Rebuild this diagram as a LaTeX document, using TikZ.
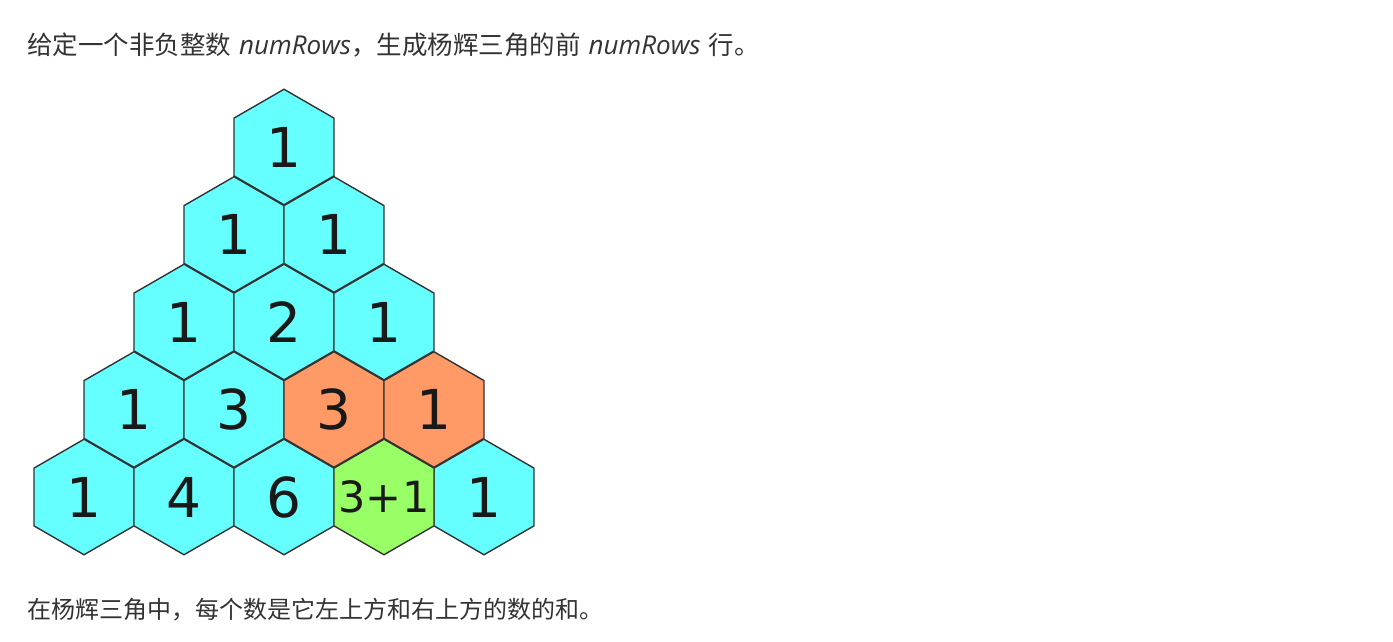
\documentclass[tikz,border=0pt]{standalone}
\usepackage{fontspec}
\usepackage{xcolor}
\usepackage{tikz}
\usetikzlibrary{shapes.geometric}
\newfontfamily\cjkfont{Noto Sans CJK SC}
\newfontfamily\latinfont{Open Sans}
\newfontfamily\numfont{DejaVu Sans}
\definecolor{hexcyan}{HTML}{66FFFF}
\definecolor{hexorange}{HTML}{FF9966}
\definecolor{hexgreen}{HTML}{99FF66}
\definecolor{textgray}{HTML}{333333}
\newcommand{\varname}{{\latinfont\itshape\fontsize{26}{30}\selectfont numRows}}
\newcommand{\gap}{\hspace{8pt}}

\begin{document}
\begin{tikzpicture}[x=1pt, y=-1pt,
  hexcell/.style={regular polygon, regular polygon sides=6, shape border rotate=30,
    minimum size=115.5pt, inner sep=0pt, draw=black!80, line width=1.4pt,
    fill=hexcyan, font=\numfont\fontsize{55}{55}\selectfont, text=black!90},
  hexsum/.style={hexcell, fill=hexorange},
  hexres/.style={hexcell, fill=hexgreen},
  caption/.style={anchor=west, text=textgray, font=\cjkfont\fontsize{24}{30}\selectfont, inner sep=0pt}]
\useasboundingbox (0,0) rectangle (1393,642);
\fill[white] (0,0) rectangle (1393,642);

% problem statement
\node[caption, font=\cjkfont\fontsize{25.5}{30}\selectfont] (title) at (27,45)
  {给定一个非负整数\gap\varname，生成杨辉三角的前\gap\varname\gap 行。};

% pascal triangle, row by row
\foreach \r/\c/\v in {0/0/1, 1/0/1, 1/1/1, 2/0/1, 2/1/2, 2/2/1,
    3/0/1, 3/1/3, 4/0/1, 4/1/4, 4/2/6, 4/4/1}
  \node[hexcell] (h-\r-\c) at ({284-50*\r+100*\c},{147+87.5*\r}) {\v};

% the two cells that are added, and their sum
\node[hexsum] (h-3-2) at (334,409.5) {3};
\node[hexsum] (h-3-3) at (434,409.5) {1};
\node[hexres, label={[font=\numfont\fontsize{43}{43}\selectfont, text=black!90]center:3+1}]
  (h-4-3) at (384,497) {};

\node[caption] (note) at (27,610) {在杨辉三角中，每个数是它左上方和右上方的数的和。};
\end{tikzpicture}
\end{document}
